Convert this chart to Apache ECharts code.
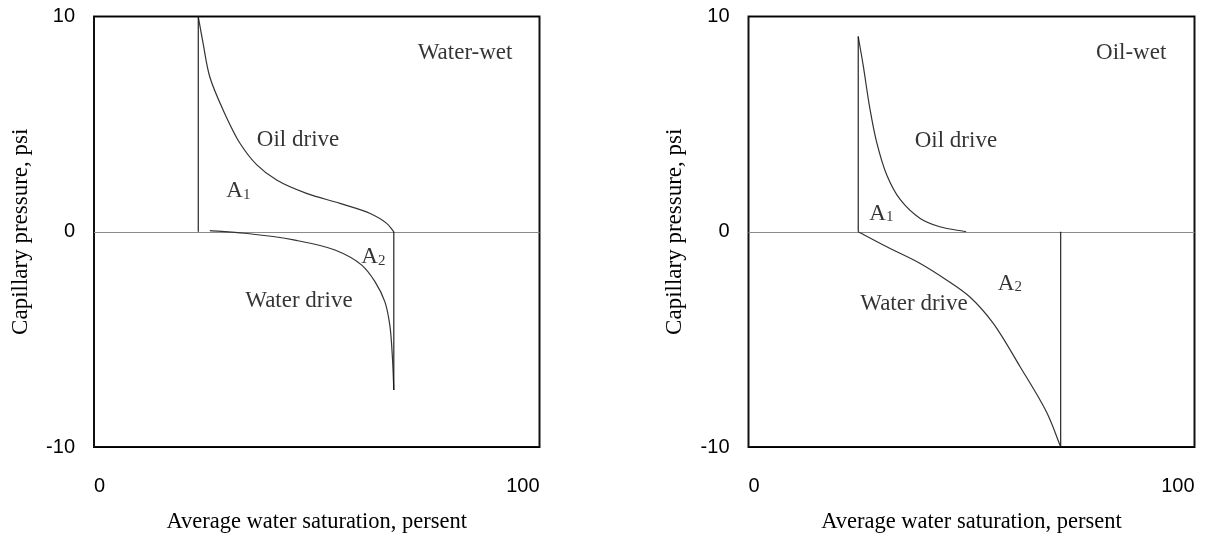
<!DOCTYPE html>
<html>
<head>
<meta charset="utf-8">
<title>Capillary pressure hysteresis</title>
<script src="https://cdn.jsdelivr.net/npm/echarts@6/dist/echarts.min.js"></script>
<style>
  html, body { margin: 0; padding: 0; background: #fff; }
  #chart { width: 1213px; height: 539px; }
</style>
</head>
<body>
<div id="chart"></div>
<script>
// Axis ranges and tick labels
const xTicks = [0, 100];
const yTicks = [-10, 0, 10];
const xTitle = 'Average water saturation, persent';
const yTitle = 'Capillary pressure, psi';

// Water-wet rock: [saturation %, Pc psi]
const wwOilDrive = [[23.4, 10], [24.5, 8.74], [26.0, 7.19], [29.0, 5.65], [32.8, 4.10], [36.5, 3.12],
  [41.0, 2.40], [47.7, 1.78], [55.2, 1.32], [62.0, 0.85], [65.7, 0.39], [67.3, 0]];
const wwWaterDrive = [[26.0, 0.05], [33.9, -0.07], [45.1, -0.39], [54.1, -0.85], [60.1, -1.55],
  [63.1, -2.33], [65.3, -3.26], [66.4, -4.34], [67.0, -5.89], [67.3, -7.35]];
const wwLeftBound = [[23.4, 0], [23.4, 10]];
const wwRightBound = [[67.3, 0], [67.3, -7.35]];

// Oil-wet rock
const owOilDrive = [[24.6, 9.07], [25.7, 7.75], [27.2, 5.74], [28.7, 4.19], [31.0, 2.64], [34.0, 1.50],
  [38.5, 0.62], [42.9, 0.23], [48.8, 0]];
const owWaterDrive = [[24.6, 0], [31.0, -0.70], [38.4, -1.46], [44.4, -2.24], [49.7, -3.04],
  [54.8, -4.23], [60.9, -6.27], [66.9, -8.41], [70.0, -10]];
const owLeftBound = [[24.6, 0], [24.6, 9.07]];
const owRightBound = [[70.0, 0], [70.0, -10]];

// Annotations: [saturation, Pc, text]
const wwNotes = [[83.3, 8.29, 'Water-wet'], [45.8, 4.26, 'Oil drive'], [32.4, 1.93, '{a|A}{s|1}'],
  [46.0, -3.22, 'Water drive'], [62.7, -1.17, '{a|A}{s|2}']];
const owNotes = [[85.8, 8.29, 'Oil-wet'], [46.5, 4.21, 'Oil drive'], [29.8, 0.87, '{a|A}{s|1}'],
  [37.1, -3.37, 'Water drive'], [58.6, -2.38, '{a|A}{s|2}']];

const SERIF = '"Liberation Serif", "Times New Roman", serif';
const SANS = '"Liberation Sans", Arial, sans-serif';

function panelAxes(idx) {
  const x = {
    gridIndex: idx, type: 'value', min: xTicks[0], max: xTicks[xTicks.length - 1],
    interval: xTicks[1] - xTicks[0],
    axisLine: { show: false }, axisTick: { show: false }, splitLine: { show: false },
    axisLabel: { margin: 29, fontSize: 20, fontFamily: SANS, color: '#000',
      alignMinLabel: 'left', alignMaxLabel: 'right' },
    name: xTitle, nameLocation: 'middle', nameGap: 64,
    nameTextStyle: { fontFamily: SERIF, fontSize: 22.5, color: '#000' }
  };
  const y = {
    gridIndex: idx, type: 'value', min: yTicks[0], max: yTicks[yTicks.length - 1],
    interval: yTicks[1] - yTicks[0],
    axisLine: { show: false }, axisTick: { show: false },
    splitLine: { show: true, lineStyle: { color: ['#000', '#8a8a8a', '#000'], width: 1.2 } },
    axisLabel: { margin: 19, fontSize: 20, fontFamily: SANS, color: '#000' },
    name: yTitle, nameLocation: 'middle', nameGap: 62,
    nameTextStyle: { fontFamily: SERIF, fontSize: 23, color: '#000' }
  };
  return [x, y];
}

// Smooth curve through the points: centripetal Catmull-Rom spline drawn as cubic
// Bezier segments in pixel space, with each point placed by the axes (api.coord).
function splinePath(pts) {
  const n = pts.length;
  const get = i => {
    if (i < 0) return [2 * pts[0][0] - pts[1][0], 2 * pts[0][1] - pts[1][1]];
    if (i >= n) return [2 * pts[n - 1][0] - pts[n - 2][0], 2 * pts[n - 1][1] - pts[n - 2][1]];
    return pts[i];
  };
  const dist = (a, b) => Math.max(1e-6, Math.pow(Math.hypot(b[0] - a[0], b[1] - a[1]), 0.5));
  let d = 'M' + pts[0][0] + ' ' + pts[0][1];
  for (let i = 0; i < n - 1; i++) {
    const p0 = get(i - 1), p1 = get(i), p2 = get(i + 1), p3 = get(i + 2);
    const d1 = dist(p0, p1), d2 = dist(p1, p2), d3 = dist(p2, p3);
    const b1 = [0, 1].map(k => (d1 * d1 * p2[k] - d2 * d2 * p0[k] + (2 * d1 * d1 + 3 * d1 * d2 + d2 * d2) * p1[k]) / (3 * d1 * (d1 + d2)));
    const b2 = [0, 1].map(k => (d3 * d3 * p1[k] - d2 * d2 * p3[k] + (2 * d3 * d3 + 3 * d3 * d2 + d2 * d2) * p2[k]) / (3 * d3 * (d3 + d2)));
    d += ' C' + b1[0] + ' ' + b1[1] + ' ' + b2[0] + ' ' + b2[1] + ' ' + p2[0] + ' ' + p2[1];
  }
  return d;
}

function curve(idx, data, color) {
  return {
    type: 'custom', coordinateSystem: 'cartesian2d', xAxisIndex: idx, yAxisIndex: idx,
    data: data, encode: { x: 0, y: 1 }, silent: true, z: 3, clip: false,
    renderItem: function (params, api) {
      if (params.dataIndex !== 0) return null;
      const px = data.map(p => api.coord(p));
      return {
        type: 'path',
        shape: { pathData: splinePath(px) },
        style: { stroke: color, lineWidth: 1.2, fill: null }
      };
    }
  };
}

function bound(idx, data) {
  return {
    type: 'line', xAxisIndex: idx, yAxisIndex: idx, data: data,
    showSymbol: false, symbol: 'none',
    lineStyle: { color: '#111', width: 1.1 }, silent: true, z: 3
  };
}

function notes(idx, list) {
  const plain = { color: '#000', textBorderWidth: 0, textBorderColor: 'transparent', textShadowBlur: 0 };
  return {
    type: 'scatter', xAxisIndex: idx, yAxisIndex: idx, symbolSize: 0, silent: true, z: 4,
    itemStyle: { color: 'transparent' },
    data: list.map(n => ({
      value: [n[0], n[1]],
      label: Object.assign({
        show: true, position: 'inside', formatter: n[2],
        fontFamily: SERIF, fontSize: 23,
        rich: {
          a: Object.assign({ fontFamily: SERIF, fontSize: 23, lineHeight: 24, verticalAlign: 'bottom' }, plain),
          s: Object.assign({ fontFamily: SERIF, fontSize: 15, lineHeight: 24, verticalAlign: 'bottom',
               padding: [6, 0, 0, 0] }, plain)
        }
      }, plain)
    }))
  };
}

const [x0, y0] = panelAxes(0);
const [x1, y1] = panelAxes(1);

const chart = echarts.init(document.getElementById('chart'), null, { renderer: 'canvas' });
chart.setOption({
  animation: false,
  backgroundColor: '#fff',
  grid: [
    { left: 94, right: 673.5, top: 16.5, bottom: 92, show: true, borderColor: '#111', borderWidth: 2, backgroundColor: 'transparent', containLabel: false },
    { left: 748.5, right: 18.5, top: 16.5, bottom: 92, show: true, borderColor: '#111', borderWidth: 2, backgroundColor: 'transparent', containLabel: false }
  ],
  xAxis: [x0, x1],
  yAxis: [y0, y1],
  series: [
    curve(0, wwOilDrive, '#333'),
    curve(0, wwWaterDrive, '#333'),
    bound(0, wwLeftBound),
    bound(0, wwRightBound),
    notes(0, wwNotes),
    curve(1, owOilDrive, '#333'),
    curve(1, owWaterDrive, '#333'),
    bound(1, owLeftBound),
    bound(1, owRightBound),
    notes(1, owNotes)
  ]
});
</script>
</body>
</html>
